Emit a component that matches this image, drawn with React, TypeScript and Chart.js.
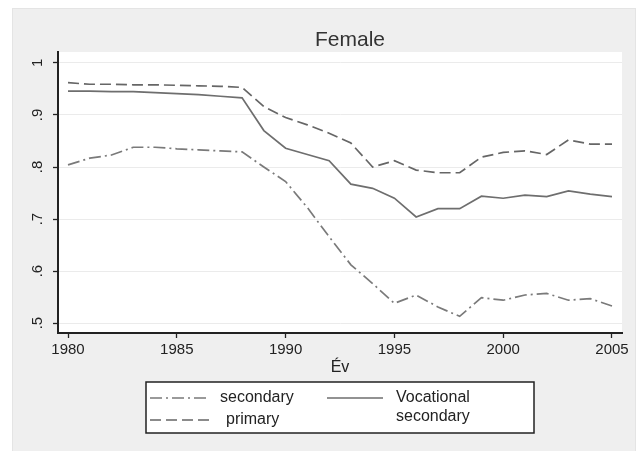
import React, { useEffect, useRef } from "react";
import { Chart, registerables } from "chart.js";

Chart.register(...registerables);

const TITLE = "Female";
const X_TITLE = "Év";
const YEARS = [1980, 1981, 1982, 1983, 1984, 1985, 1986, 1987, 1988, 1989, 1990, 1991, 1992, 1993, 1994, 1995, 1996, 1997, 1998, 1999, 2000, 2001, 2002, 2003, 2004, 2005];
const X_TICKS = [1980, 1985, 1990, 1995, 2000, 2005];
const Y_TICKS = [0.5, 0.6, 0.7, 0.8, 0.9, 1];
const Y_TICK_LABELS = [".5", ".6", ".7", ".8", ".9", "1"];

const SERIES_LABELS = ["secondary", "primary", "Vocational secondary"];
// dash-dot line (lowest)
const SECONDARY = [0.804, 0.817, 0.823, 0.838, 0.838, 0.835, 0.833, 0.831, 0.829, 0.800, 0.772, 0.722, 0.666, 0.612, 0.576, 0.538, 0.554, 0.531, 0.513, 0.549, 0.544, 0.554, 0.557, 0.544, 0.547, 0.533];
// dashed line (highest)
const PRIMARY = [0.962, 0.959, 0.959, 0.958, 0.958, 0.957, 0.956, 0.955, 0.953, 0.916, 0.895, 0.881, 0.865, 0.846, 0.800, 0.812, 0.794, 0.789, 0.789, 0.819, 0.828, 0.831, 0.824, 0.852, 0.844, 0.844];
// solid line (middle)
const VOCATIONAL = [0.946, 0.946, 0.945, 0.945, 0.943, 0.941, 0.939, 0.936, 0.933, 0.870, 0.836, 0.824, 0.812, 0.767, 0.759, 0.740, 0.704, 0.720, 0.720, 0.744, 0.740, 0.746, 0.743, 0.754, 0.748, 0.743];

const FONT = "'Liberation Sans', Arial, sans-serif";

const decorPlugin = {
  id: "decor",
  beforeDraw(chart: any) {
    const { ctx, chartArea } = chart;
    ctx.save();
    ctx.fillStyle = "#ffffff";
    ctx.fillRect(0, 0, chart.width, chart.height);
    ctx.fillStyle = "#efefef";
    ctx.fillRect(13, 9, 622, 442);
    ctx.strokeStyle = "#e4e4e4";
    ctx.lineWidth = 1;
    ctx.strokeRect(12.5, 8.5, 623, 443);
    ctx.fillStyle = "#ffffff";
    ctx.fillRect(chartArea.left, chartArea.top, chartArea.right - chartArea.left, chartArea.bottom - chartArea.top);
    ctx.restore();
  },
  afterDraw(chart: any) {
    const { ctx } = chart;
    ctx.save();
    // title
    ctx.fillStyle = "#333333";
    ctx.font = `21px ${FONT}`;
    ctx.textAlign = "center";
    ctx.textBaseline = "middle";
    ctx.fillText(TITLE, 350, 40);
    // legend box
    const bx = 146, by = 382, bw = 388, bh = 51;
    ctx.fillStyle = "#ffffff";
    ctx.fillRect(bx, by, bw, bh);
    ctx.strokeStyle = "#222222";
    ctx.lineWidth = 1.5;
    ctx.strokeRect(bx, by, bw, bh);
    const slots = [
      { x: 150, y: 398, len: 60, tx: 220 },
      { x: 150, y: 420, len: 62, tx: 226 },
      { x: 327, y: 398, len: 56, tx: 396 },
    ];
    ctx.font = `16px ${FONT}`;
    ctx.textAlign = "left";
    ctx.textBaseline = "middle";
    chart.data.datasets.forEach((ds: any, i: number) => {
      const s = slots[i];
      ctx.strokeStyle = ds.borderColor;
      ctx.lineWidth = ds.borderWidth;
      ctx.setLineDash(ds.borderDash || []);
      ctx.beginPath();
      ctx.moveTo(s.x, s.y);
      ctx.lineTo(s.x + s.len, s.y);
      ctx.stroke();
      ctx.setLineDash([]);
      ctx.fillStyle = "#222222";
      const words = String(ds.label).split(" ");
      const lines = words.length > 1 && ctx.measureText(ds.label).width > 120 ? words : [ds.label];
      lines.forEach((t: string, k: number) => ctx.fillText(t, s.tx, s.y + k * 19));
    });
    ctx.restore();
  },
};

export default function App() {
  const ref = useRef<HTMLCanvasElement | null>(null);
  useEffect(() => {
    if (!ref.current) return;
    const chart = new Chart(ref.current, {
      type: "line",
      data: {
        labels: YEARS,
        datasets: [
          {
            label: SERIES_LABELS[0],
            data: YEARS.map((y, i) => ({ x: y, y: SECONDARY[i] })),
            borderColor: "#7a7a7a",
            borderWidth: 1.7,
            borderDash: [12, 4, 2, 4],
            pointRadius: 0,
            tension: 0,
            fill: false,
          },
          {
            label: SERIES_LABELS[1],
            data: YEARS.map((y, i) => ({ x: y, y: PRIMARY[i] })),
            borderColor: "#666666",
            borderWidth: 1.7,
            borderDash: [11, 5],
            pointRadius: 0,
            tension: 0,
            fill: false,
          },
          {
            label: SERIES_LABELS[2],
            data: YEARS.map((y, i) => ({ x: y, y: VOCATIONAL[i] })),
            borderColor: "#6e6e6e",
            borderWidth: 1.7,
            pointRadius: 0,
            tension: 0,
            fill: false,
          },
        ],
      },
      options: {
        animation: false,
        responsive: false,
        devicePixelRatio: 1,
        layout: { padding: { top: 52, left: 0, right: 19, bottom: 70 } },
        plugins: {
          legend: { display: false },
          title: { display: false },
          tooltip: { enabled: false },
        },
        scales: {
          x: {
            type: "linear",
            min: 1979.54,
            max: 2005.46,
            afterBuildTicks: (s: any) => { s.ticks = X_TICKS.map((v) => ({ value: v })); },
            afterFit: (s: any) => { s.height = 48; },
            grid: { drawOnChartArea: false, drawTicks: true, tickLength: 5, tickColor: "#222222", tickWidth: 1.3 },
            border: { display: true, color: "#222222", width: 2 },
            ticks: {
              color: "#222222",
              font: { family: FONT, size: 15 },
              padding: 3,
              maxRotation: 0,
              minRotation: 0,
              autoSkip: false,
              callback: (v: any) => String(v),
            },
            title: {
              display: true,
              text: X_TITLE,
              color: "#222222",
              font: { family: FONT, size: 16 },
              padding: { top: 0, bottom: 4 },
            },
          },
          y: {
            type: "linear",
            min: 0.481,
            max: 1.021,
            afterBuildTicks: (s: any) => { s.ticks = Y_TICKS.map((v) => ({ value: v })); },
            afterFit: (s: any) => { s.width = 58; },
            grid: { color: "#ebebeb", lineWidth: 1, drawTicks: true, tickLength: 5, tickColor: "#222222", tickWidth: 1.3 },
            border: { display: true, color: "#222222", width: 2 },
            ticks: {
              color: "#222222",
              font: { family: FONT, size: 15 },
              padding: 9,
              minRotation: 90,
              maxRotation: 90,
              crossAlign: "center",
              autoSkip: false,
              callback: (v: any) => {
                const i = Y_TICKS.findIndex((t) => Math.abs(t - v) < 1e-6);
                return i >= 0 ? Y_TICK_LABELS[i] : "";
              },
            },
          },
        },
      },
      plugins: [decorPlugin],
    } as any);
    return () => chart.destroy();
  }, []);
  return (
    <div style={{ position: "fixed", left: 0, top: 0, width: 641, height: 451 }}>
      <canvas ref={ref} width={641} height={451} style={{ width: 641, height: 451, display: "block" }} />
    </div>
  );
}
